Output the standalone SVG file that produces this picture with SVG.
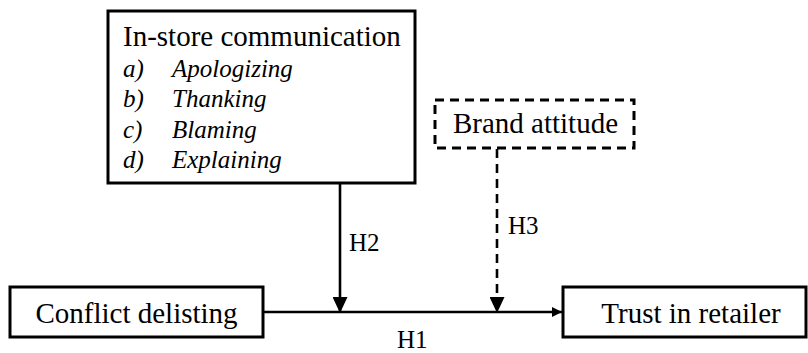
<svg xmlns="http://www.w3.org/2000/svg" width="808" height="353" viewBox="0 0 808 353">
<defs>
<style>
.box{fill:#fff;stroke:#000;stroke-width:3}
.dbox{fill:#fff;stroke:#000;stroke-width:3;stroke-dasharray:9 6}
.ln{stroke:#000;stroke-width:2.6;fill:none}
.dln{stroke:#000;stroke-width:2.6;fill:none;stroke-dasharray:9 6}
</style>
<marker id="big" markerUnits="userSpaceOnUse" markerWidth="16" markerHeight="15" refX="16" refY="7.5" orient="auto">
<path d="M0,0 L16,7.5 L0,15 z" fill="#000"/>
</marker>
<marker id="small" markerUnits="userSpaceOnUse" markerWidth="10" markerHeight="10" refX="10" refY="5" orient="auto">
<path d="M0,0 L10,5 L0,10 z" fill="#000"/>
</marker>
</defs>
<rect width="808" height="353" fill="#fff"/>
<g font-family="'Liberation Serif', 'Times New Roman', Times, Tinos, 'Nimbus Roman', 'Nimbus Roman No9 L', FreeSerif, 'Noto Serif', 'DejaVu Serif', serif" fill="#000">
<g id="connectors" font-size="25">
<line class="ln" x1="263" y1="312" x2="562" y2="312" marker-end="url(#small)"/>
<line class="ln" x1="340" y1="183" x2="340" y2="313" marker-end="url(#big)"/>
<line class="dln" x1="497" y1="149" x2="497" y2="313" marker-end="url(#big)"/>
<text x="349" y="251">H2</text>
<text x="508" y="234">H3</text>
<text x="397" y="348">H1</text>
</g>
<g id="instore">
<rect class="box" x="108" y="11" width="307" height="172"/>
<text x="123" y="46" font-size="29">In-store communication</text>
<g font-size="25" font-style="italic">
<text x="123" y="77">a)</text><text x="172" y="77">Apologizing</text>
<text x="123" y="107">b)</text><text x="172" y="107">Thanking</text>
<text x="123" y="138">c)</text><text x="172" y="138">Blaming</text>
<text x="123" y="168">d)</text><text x="172" y="168">Explaining</text>
</g>
</g>
<g id="brand">
<rect class="dbox" x="435" y="100" width="199" height="48"/>
<text x="535.5" y="133" font-size="29" text-anchor="middle">Brand attitude</text>
</g>
<g id="conflict">
<rect class="box" x="10" y="287" width="253" height="50"/>
<text x="136.5" y="323" font-size="29" text-anchor="middle">Conflict delisting</text>
</g>
<g id="trust">
<rect class="box" x="563" y="287" width="243" height="50"/>
<text x="691" y="323" font-size="29" text-anchor="middle">Trust in retailer</text>
</g>
</g>
</svg>
